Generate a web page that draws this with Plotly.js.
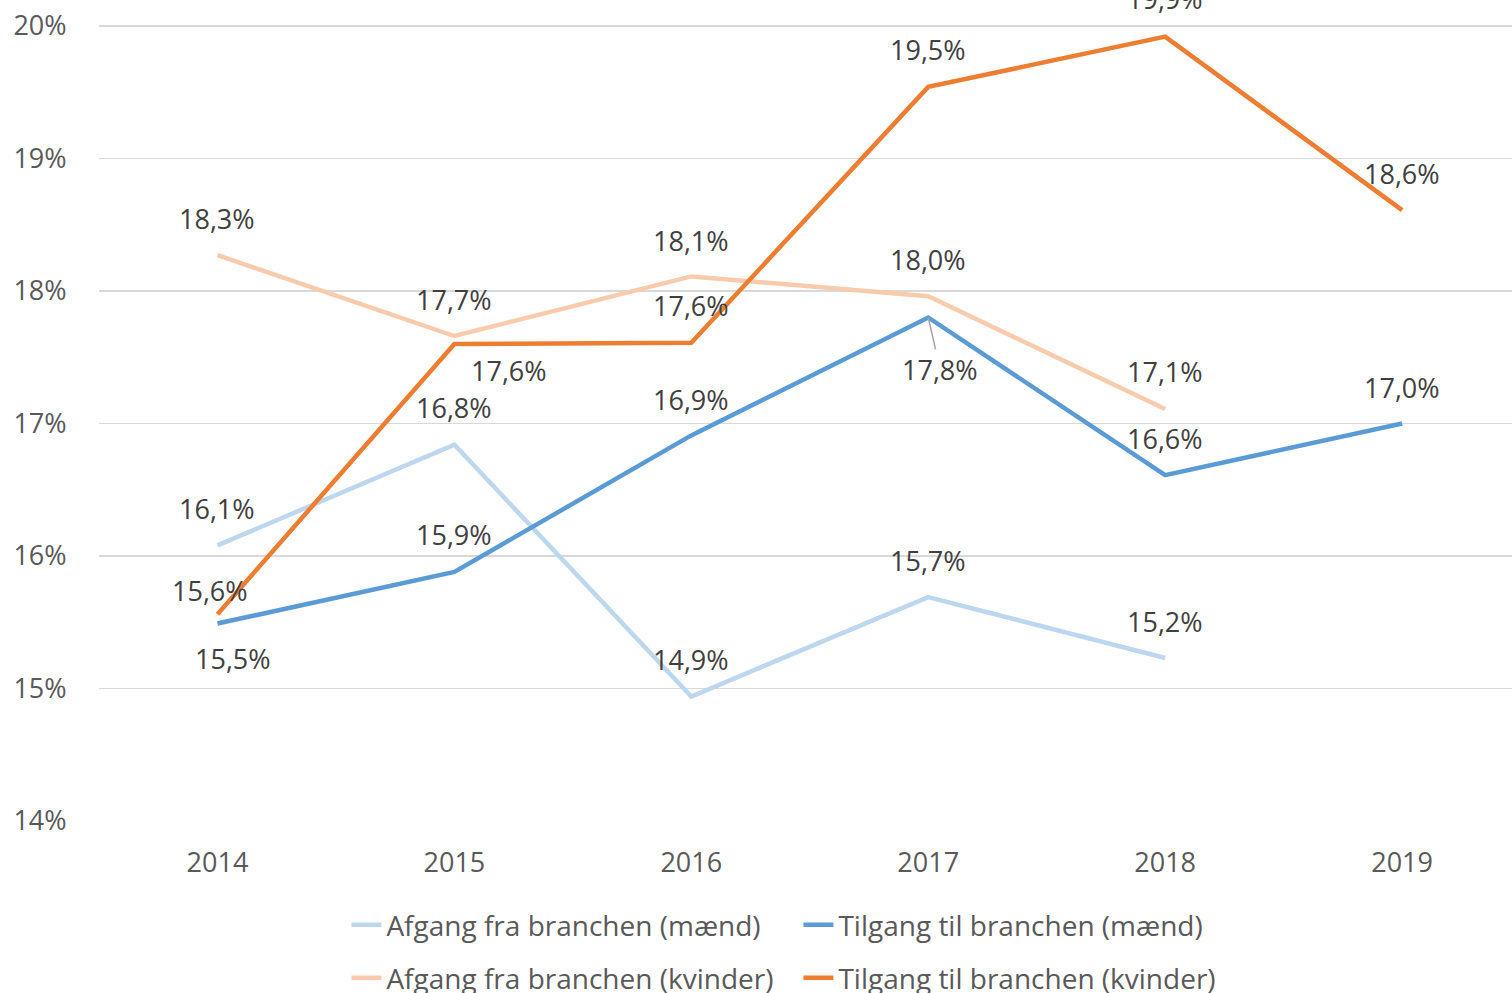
<!DOCTYPE html>
<html>
<head>
<meta charset="utf-8">
<script src="https://cdn.plot.ly/plotly-3.0.1.min.js"></script>
<style>html,body{margin:0;padding:0;background:#fff;}#chart{width:1512px;height:993px;}</style>
</head>
<body>
<div id="chart"></div>
<script>
// ---- data ----
const years = ['2014', '2015', '2016', '2017', '2018', '2019'];
const afgangMaend   = [16.08, 16.84, 14.94, 15.69, 15.23, null];
const tilgangMaend  = [15.49, 15.88, 16.91, 17.80, 16.61, 17.00];
const afgangKvinder = [18.27, 17.66, 18.11, 17.96, 17.11, null];
const tilgangKvinder= [15.56, 17.60, 17.61, 19.54, 19.92, 18.61];
const seriesNames = ['Afgang fra branchen (mænd)', 'Tilgang til branchen (mænd)',
                     'Afgang fra branchen (kvinder)', 'Tilgang til branchen (kvinder)'];
const yTickVals = [14, 15, 16, 17, 18, 19, 20];
const yTickText = ['14%', '15%', '16%', '17%', '18%', '19%', '20%'];

// ---- styles ----
const colors = ['#BDD7EE', '#5B9BD5', '#F8CBAD', '#ED7D31'];
const allSeries = [afgangMaend, tilgangMaend, afgangKvinder, tilgangKvinder];
const legendIds = ['legend', 'legend', 'legend2', 'legend2'];
// label offsets [xshift, yshift] per series per point (default: above)
const offsets = [
  [[0,37],[0,37],[0,37],[0,37],[0,37],null],
  [[16,-35],[0,37],[0,36],null,[0,37],[0,36]],
  [[0,37],[0,37],[0,36],[0,37],[0,37],null],
  [[-7,24],[55,-27],[0,37],[0,37],[0,38],[0,37]]
];

const traces = allSeries.map((vals, i) => ({
  type: 'scatter', mode: 'lines', x: years, y: vals, name: seriesNames[i],
  line: {color: colors[i], width: 4.5}, hoverinfo: 'skip', legend: legendIds[i],
  connectgaps: false
}));

const fmt = v => v.toFixed(1).replace('.', ',') + '%';
const annotations = [];
allSeries.forEach((vals, i) => {
  vals.forEach((v, j) => {
    if (v === null) return;
    const off = offsets[i][j];
    // category axis: reference position by category index (names look numeric)
    if (off === null) {
      annotations.push({x: j, y: v, xref: 'x', yref: 'y', text: fmt(v),
        showarrow: true, arrowhead: 0, arrowwidth: 1.5, arrowcolor: '#A6A6A6',
        ax: 12, ay: 52, standoff: 0,
        font: {family: 'Open Sans', size: 27, color: '#404040'}});
    } else {
      annotations.push({x: j, y: v, xref: 'x', yref: 'y', text: fmt(v),
        showarrow: false, xshift: off[0], yshift: off[1],
        xanchor: 'center', yanchor: 'middle',
        font: {family: 'Open Sans', size: 27, color: '#404040'}});
    }
  });
});

const layout = {
  width: 1512, height: 993,
  margin: {l: 98.5, r: 0, t: 0, b: 172, pad: 0, autoexpand: false},
  paper_bgcolor: '#fff', plot_bgcolor: '#fff',
  font: {family: 'Open Sans', color: '#595959', size: 27},
  showlegend: true,
  xaxis: {type: 'category', range: [-0.5, 5.464], showgrid: false, zeroline: false,
    showline: false, ticks: 'outside', ticklen: 18, tickcolor: 'rgba(0,0,0,0)',
    tickfont: {family: 'Open Sans', size: 27, color: '#595959'}, fixedrange: true},
  yaxis: {range: [14, 20.196], tickvals: yTickVals, ticktext: yTickText,
    showgrid: true, gridcolor: '#D9D9D9', gridwidth: 1.5, zeroline: false, showline: false,
    ticks: 'outside', ticklen: 26, tickcolor: 'rgba(0,0,0,0)',
    tickfont: {family: 'Open Sans', size: 27, color: '#595959'}, fixedrange: true},
  legend: {orientation: 'h', x: (346 - 98.5) / 1413.5, xanchor: 'left',
    y: (821 - 925) / 821, yanchor: 'middle', entrywidth: 407,
    font: {family: 'Open Sans', size: 28, color: '#595959'}, bgcolor: 'rgba(0,0,0,0)'},
  legend2: {orientation: 'h', x: (346 - 98.5) / 1413.5, xanchor: 'left',
    y: (821 - 978) / 821, yanchor: 'middle', entrywidth: 407,
    font: {family: 'Open Sans', size: 28, color: '#595959'}, bgcolor: 'rgba(0,0,0,0)'},
  annotations: annotations
};

Plotly.newPlot('chart', traces, layout, {displayModeBar: false, staticPlot: true});
</script>
</body>
</html>
